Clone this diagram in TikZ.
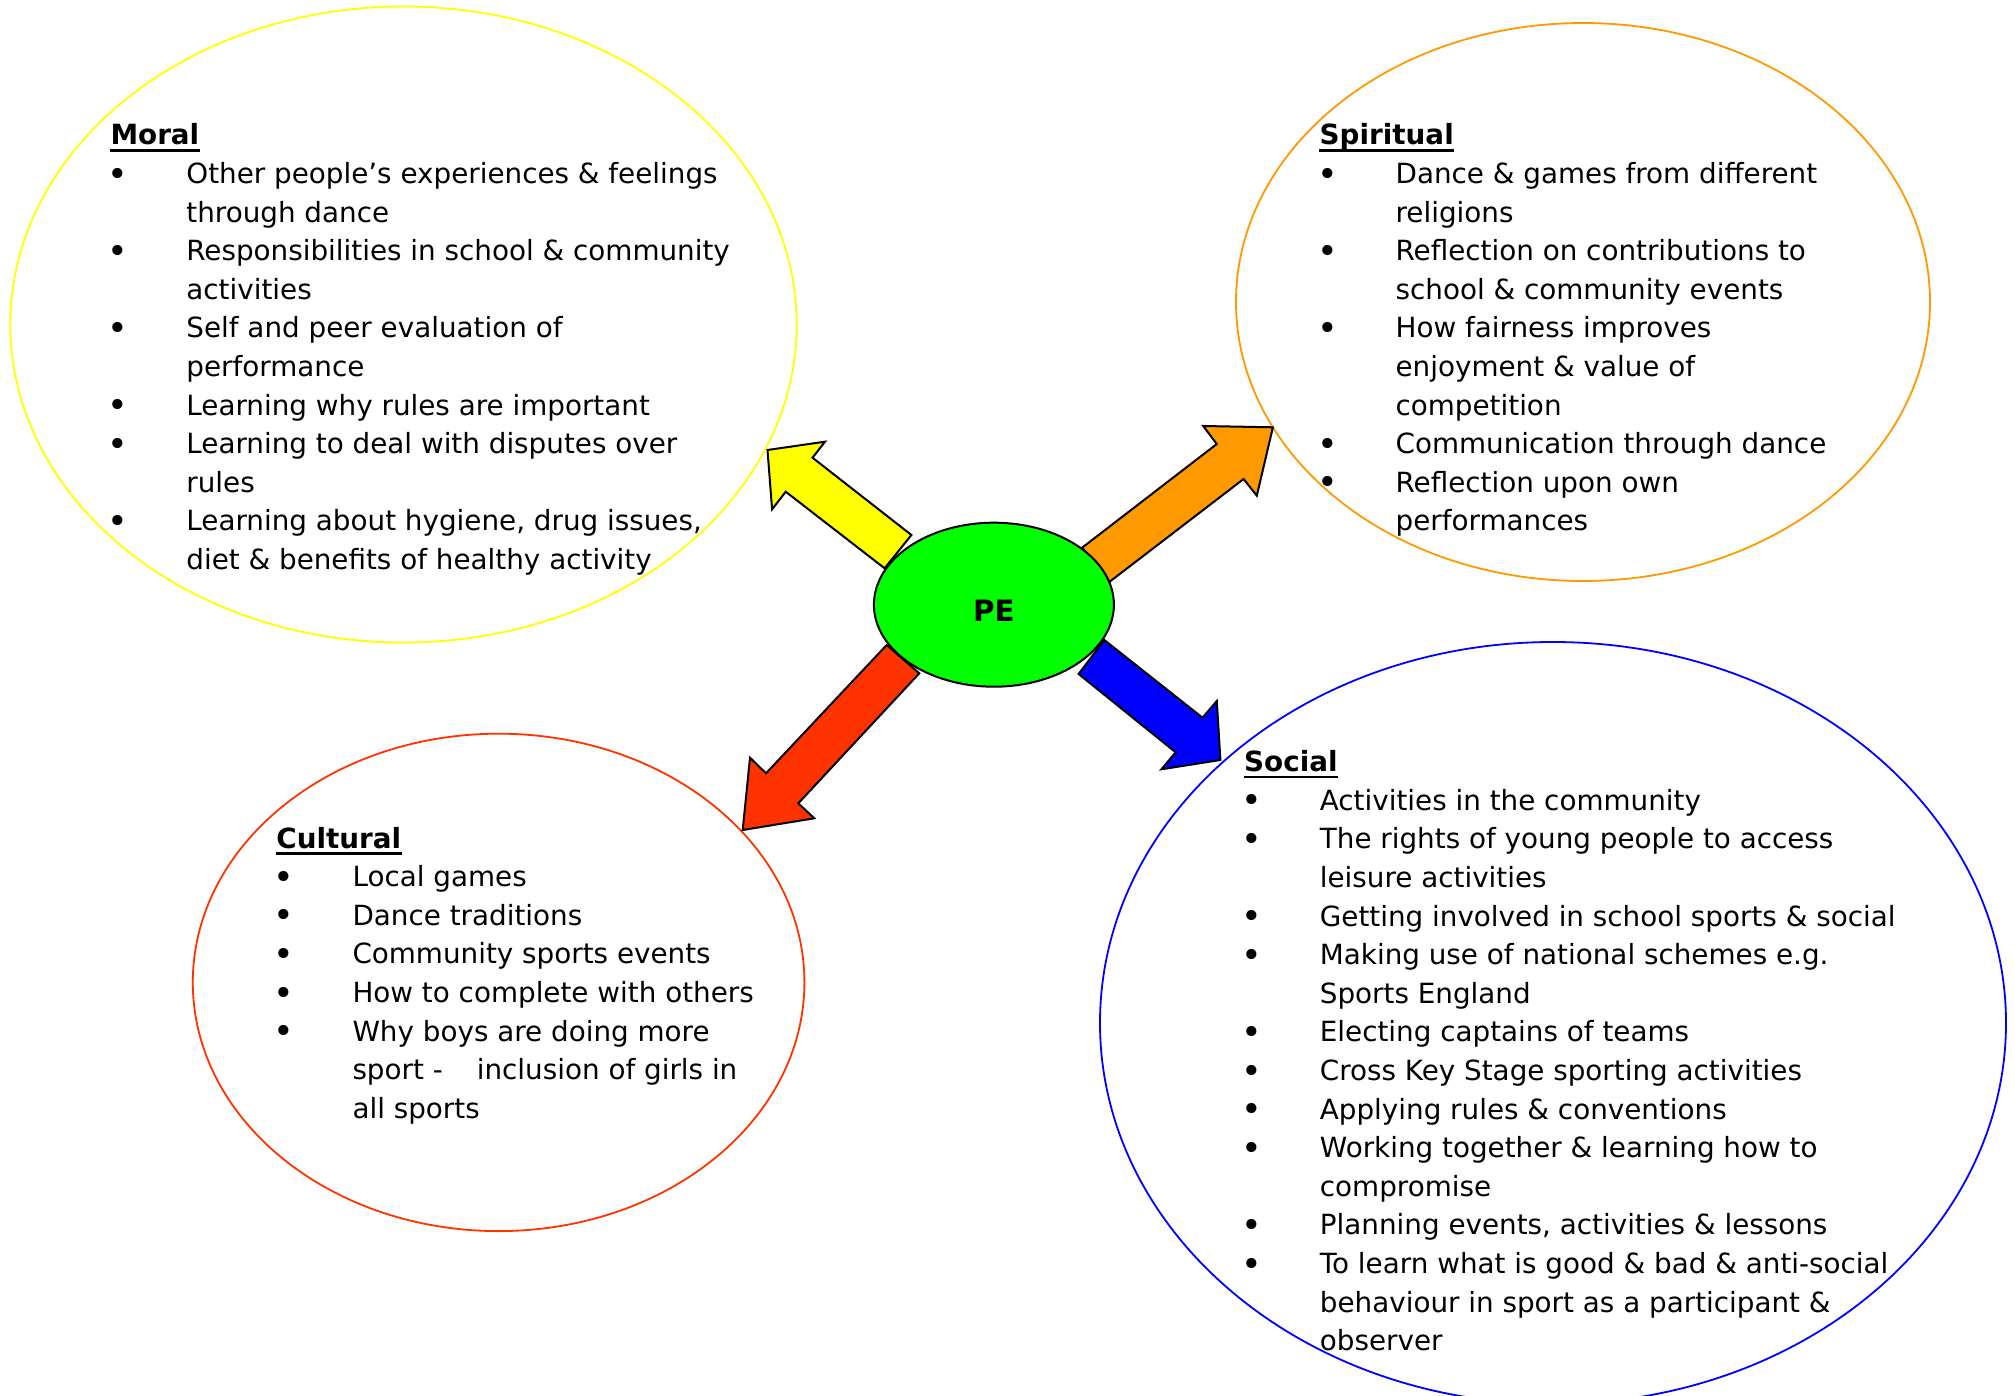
\documentclass[tikz,border=0pt]{standalone}
\usepackage{fontspec}
\setmainfont{DejaVu Sans}
\usetikzlibrary{shapes.geometric}
\definecolor{myyellow}{RGB}{255,255,0}
\definecolor{myorange}{RGB}{255,153,0}
\definecolor{myred}{RGB}{255,51,0}
\definecolor{myblue}{RGB}{0,0,255}
\definecolor{mygreen}{RGB}{0,255,0}
\newcommand{\bul}{\makebox[39.3pt][l]{\raisebox{-1.3pt}{\fontsize{17.5pt}{17.5pt}\selectfont •}}}
\newcommand{\cont}{\hspace*{39.3pt}}
\begin{document}
\begin{tikzpicture}[x=0.5pt,y=-0.5pt,
  circ/.style={ellipse, draw, line width=0.9pt, inner sep=0},
  head/.style={anchor=base west, inner sep=0, font=\fontsize{13.9pt}{19.3pt}\selectfont\bfseries},
  body/.style={anchor=base west, inner sep=0, font=\fontsize{13.9pt}{19.3pt}\selectfont},
  blockarrow/.style={draw=black, line width=1pt, line join=miter},
  uline/.style={line width=1.3pt}]
\useasboundingbox (0,0) rectangle (2015,1396);

% outline ellipses
\node[circ, draw=myyellow, minimum width=393.2pt, minimum height=318pt] (moral) at (403.5,324.5) {};
\node[circ, draw=myorange, minimum width=347pt, minimum height=279pt] (spiritual) at (1583,302) {};
\node[circ, draw=myred, minimum width=305.8pt, minimum height=248.7pt] (cultural) at (498.6,982.4) {};
\node[circ, draw=myblue, minimum width=453pt, minimum height=381pt] (social) at (1553,1023) {};

% block arrows
\filldraw[blockarrow, fill=myyellow] (767.5,450) -- (825,441.7) -- (812.5,457.7) -- (911.4,535) -- (884.6,568.3) -- (785.7,491.7) -- (772.1,509.3) -- cycle;
\filldraw[blockarrow, fill=myorange] (1272.9,427.3) -- (1256.8,495.7) -- (1243.6,479) -- (1108.9,582.3) -- (1082.1,547.7) -- (1216.8,444) -- (1203.2,426) -- cycle;
\filldraw[blockarrow, fill=myblue] (1220.4,760) -- (1161.4,769.3) -- (1175.7,752.3) -- (1078.6,674) -- (1104.3,640) -- (1202.5,717.7) -- (1216.8,701) -- cycle;
\filldraw[blockarrow, fill=myred] (742.7,830) -- (750,757.7) -- (766,773.3) -- (886.7,645) -- (919.3,673.3) -- (798.3,803.3) -- (814.3,818.3) -- cycle;

% centre
\node[ellipse, draw=black, line width=1pt, fill=mygreen, inner sep=0, minimum width=120pt, minimum height=82pt] (pe) at (993.9,604.7) {};
\node[anchor=base, inner sep=0, font=\fontsize{14.7pt}{17pt}\selectfont\bfseries] (petext) at ([yshift=-8.5pt]pe.center) {PE};

% Moral
\node[head] (hmoral) at (110.1,145) {Moral};
\draw[uline] ([yshift=-2.7pt]hmoral.base west) -- ([yshift=-2.7pt]hmoral.base east);
\node[body] (tmoral) at (107.4,183.6) {\parbox[t]{500pt}{\raggedright
\bul Other people’s experiences \& feelings\\
\cont through dance\\
\bul Responsibilities in school \& community\\
\cont activities\\
\bul Self and peer evaluation of\\
\cont performance\\
\bul Learning why rules are important\\
\bul Learning to deal with disputes over\\
\cont rules\\
\bul Learning about hygiene, drug issues,\\
\cont diet \& benefits of healthy activity}};

% Spiritual
\node[head] (hspiritual) at (1319.3,145) {Spiritual};
\draw[uline] ([yshift=-2.7pt]hspiritual.base west) -- ([yshift=-2.7pt]hspiritual.base east);
\node[body] (tspiritual) at (1316.6,183.6) {\parbox[t]{500pt}{\raggedright
\bul Dance \& games from different\\
\cont religions\\
\bul Reflection on contributions to\\
\cont school \& community events\\
\bul How fairness improves\\
\cont enjoyment \& value of\\
\cont competition\\
\bul Communication through dance\\
\bul Reflection upon own\\
\cont performances}};

% Cultural
\node[head] (hcultural) at (276,848.3) {Cultural};
\draw[uline] ([yshift=-2.7pt]hcultural.base west) -- ([yshift=-2.7pt]hcultural.base east);
\node[body] (tcultural) at (273.5,886.7) {\parbox[t]{500pt}{\raggedright
\bul Local games\\
\bul Dance traditions\\
\bul Community sports events\\
\bul How to complete with others\\
\bul Why boys are doing more\\
\cont sport -\hspace*{17pt}inclusion of girls in\\
\cont all sports}};

% Social
\node[head] (hsocial) at (1243.8,771.7) {Social};
\draw[uline] ([yshift=-2.7pt]hsocial.base west) -- ([yshift=-2.7pt]hsocial.base east);
\node[body] (tsocial) at (1240.9,810.3) {\parbox[t]{500pt}{\raggedright
\bul Activities in the community\\
\bul The rights of young people to access\\
\cont leisure activities\\
\bul Getting involved in school sports \& social\\
\bul Making use of national schemes e.g.\\
\cont Sports England\\
\bul Electing captains of teams\\
\bul Cross Key Stage sporting activities\\
\bul Applying rules \& conventions\\
\bul Working together \& learning how to\\
\cont compromise\\
\bul Planning events, activities \& lessons\\
\bul To learn what is good \& bad \& anti-social\\
\cont behaviour in sport as a participant \&\\
\cont observer}};
\end{tikzpicture}
\end{document}
